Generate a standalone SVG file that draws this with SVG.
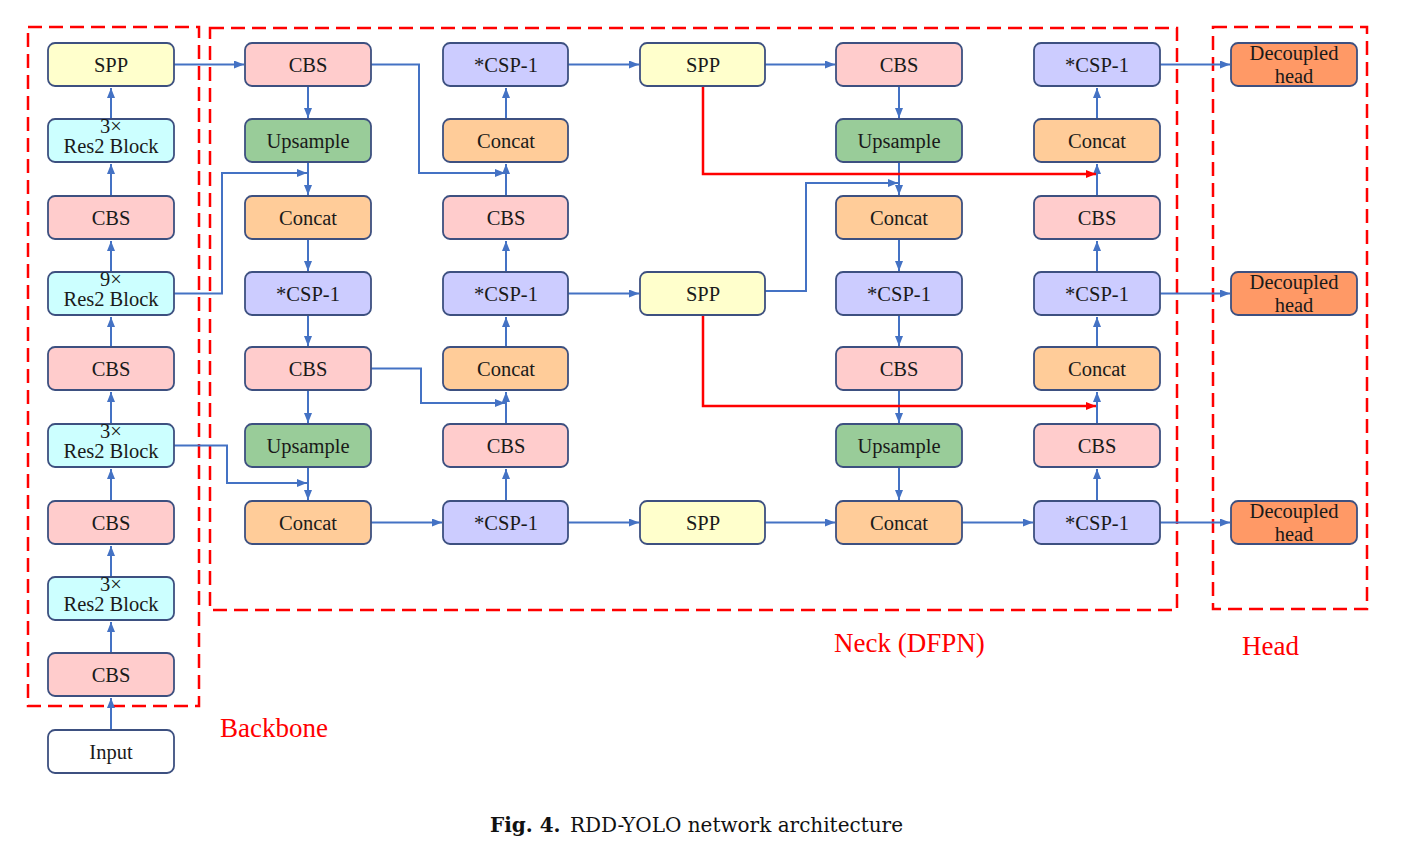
<svg xmlns="http://www.w3.org/2000/svg" width="1411" height="858" viewBox="0 0 1411 858">
<defs>
<style>
.n rect{stroke:#3D5080;stroke-width:1.8}
.t{font-family:"Liberation Serif","Times New Roman",serif;font-size:20.5px;fill:#1a1a1a;text-anchor:middle}
.spp{fill:#FFFFCC}.cbs{fill:#FFCCCC}.res{fill:#CCFFFF}.ups{fill:#99CC99}.cat{fill:#FFCC99}.csp{fill:#CCCCFF}.dh{fill:#FF9966}.inp{fill:#FFFFFF}
.c path{fill:none;stroke:#4472C4;stroke-width:2;marker-end:url(#ab)}
.c path.r{stroke:#FF0000;stroke-width:2.5;marker-end:url(#ar)}
.box{fill:none;stroke:#FF0000;stroke-width:2.5;stroke-dasharray:14 7}
.lbl{font-family:"Liberation Serif","Times New Roman",serif;font-size:27px;fill:#FF0000}
</style>
<marker id="ab" markerUnits="userSpaceOnUse" markerWidth="10" markerHeight="8" refX="10" refY="4" orient="auto"><path d="M0,0 L10,4 L0,8 z" fill="#4472C4"/></marker>
<marker id="ar" markerUnits="userSpaceOnUse" markerWidth="10" markerHeight="8" refX="10" refY="4" orient="auto"><path d="M0,0 L10,4 L0,8 z" fill="#FF0000"/></marker>
</defs>
<rect width="1411" height="858" fill="#FFFFFF"/>

<g id="groups">
<rect class="box" x="28" y="27" width="171" height="679"/>
<rect class="box" x="210" y="28" width="967" height="582"/>
<rect class="box" x="1213" y="27" width="154" height="582"/>
<text class="lbl" x="220" y="737">Backbone</text>
<text class="lbl" x="834" y="652">Neck (DFPN)</text>
<text class="lbl" x="1242" y="655">Head</text>
</g>

<g id="connectors" class="c">
<path d="M111,730 V698"/>
<path d="M111,653 V622"/>
<path d="M111,577 V546"/>
<path d="M111,501 V469"/>
<path d="M111,424 V392"/>
<path d="M111,347 V317"/>
<path d="M111,272 V241"/>
<path d="M111,196 V164"/>
<path d="M111,119 V88"/>
<path d="M174,64.5 H244"/>
<path d="M371,64.5 H419 V173 H505"/>
<path d="M174,293.5 H222 V173 H307"/>
<path d="M308,86 V118"/>
<path d="M308,162 V195"/>
<path d="M308,239 V271"/>
<path d="M308,315 V346"/>
<path d="M308,390 V423"/>
<path d="M308,467 V500"/>
<path d="M371,368.5 H421 V403 H505"/>
<path d="M174,445.5 H227 V483 H307"/>
<path d="M371,522.5 H442"/>
<path d="M506,501 V469"/>
<path d="M506,424 V392"/>
<path d="M506,347 V317"/>
<path d="M506,272 V241"/>
<path d="M506,196 V164"/>
<path d="M506,119 V88"/>
<path d="M568,64.5 H639"/>
<path d="M568,293.5 H639"/>
<path d="M568,522.5 H639"/>
<path d="M765,64.5 H835"/>
<path d="M765,291 H806 V183 H898"/>
<path d="M765,522.5 H835"/>
<path d="M899,86 V118"/>
<path d="M899,162 V195"/>
<path d="M899,239 V271"/>
<path d="M899,315 V346"/>
<path d="M899,390 V423"/>
<path d="M899,467 V500"/>
<path d="M962,522.5 H1033"/>
<path d="M1097,501 V469"/>
<path d="M1097,424 V392"/>
<path d="M1097,347 V317"/>
<path d="M1097,272 V241"/>
<path d="M1097,196 V164"/>
<path d="M1097,119 V88"/>
<path d="M1160,64.5 H1230"/>
<path d="M1160,293.5 H1230"/>
<path d="M1160,522.5 H1230"/>
<path class="r" d="M703,86 V174 H1096"/>
<path class="r" d="M703,315 V406 H1096"/>
</g>

<g id="backbone">
<g id="b_spp" class="n"><rect class="spp" x="48" y="43" width="126" height="43" rx="7"/><text class="t" x="111" y="72">SPP</text></g>
<g id="b_res1" class="n"><rect class="res" x="48" y="119" width="126" height="43" rx="7"/><text class="t" x="111" y="133">3×</text><text class="t" x="111" y="153">Res2 Block</text></g>
<g id="b_cbs1" class="n"><rect class="cbs" x="48" y="196" width="126" height="43" rx="7"/><text class="t" x="111" y="225">CBS</text></g>
<g id="b_res2" class="n"><rect class="res" x="48" y="272" width="126" height="43" rx="7"/><text class="t" x="111" y="286">9×</text><text class="t" x="111" y="306">Res2 Block</text></g>
<g id="b_cbs2" class="n"><rect class="cbs" x="48" y="347" width="126" height="43" rx="7"/><text class="t" x="111" y="376">CBS</text></g>
<g id="b_res3" class="n"><rect class="res" x="48" y="424" width="126" height="43" rx="7"/><text class="t" x="111" y="438">3×</text><text class="t" x="111" y="458">Res2 Block</text></g>
<g id="b_cbs3" class="n"><rect class="cbs" x="48" y="501" width="126" height="43" rx="7"/><text class="t" x="111" y="530">CBS</text></g>
<g id="b_res4" class="n"><rect class="res" x="48" y="577" width="126" height="43" rx="7"/><text class="t" x="111" y="591">3×</text><text class="t" x="111" y="611">Res2 Block</text></g>
<g id="b_cbs4" class="n"><rect class="cbs" x="48" y="653" width="126" height="43" rx="7"/><text class="t" x="111" y="682">CBS</text></g>
<g id="b_input" class="n"><rect class="inp" x="48" y="730" width="126" height="43" rx="7"/><text class="t" x="111" y="759">Input</text></g>
</g>

<g id="neck">
<g id="c1a" class="n"><rect class="cbs" x="245" y="43" width="126" height="43" rx="7"/><text class="t" x="308" y="72">CBS</text></g>
<g id="c1b" class="n"><rect class="ups" x="245" y="119" width="126" height="43" rx="7"/><text class="t" x="308" y="148">Upsample</text></g>
<g id="c1c" class="n"><rect class="cat" x="245" y="196" width="126" height="43" rx="7"/><text class="t" x="308" y="225">Concat</text></g>
<g id="c1d" class="n"><rect class="csp" x="245" y="272" width="126" height="43" rx="7"/><text class="t" x="308" y="301">*CSP-1</text></g>
<g id="c1e" class="n"><rect class="cbs" x="245" y="347" width="126" height="43" rx="7"/><text class="t" x="308" y="376">CBS</text></g>
<g id="c1f" class="n"><rect class="ups" x="245" y="424" width="126" height="43" rx="7"/><text class="t" x="308" y="453">Upsample</text></g>
<g id="c1g" class="n"><rect class="cat" x="245" y="501" width="126" height="43" rx="7"/><text class="t" x="308" y="530">Concat</text></g>

<g id="c2a" class="n"><rect class="csp" x="443" y="43" width="125" height="43" rx="7"/><text class="t" x="506" y="72">*CSP-1</text></g>
<g id="c2b" class="n"><rect class="cat" x="443" y="119" width="125" height="43" rx="7"/><text class="t" x="506" y="148">Concat</text></g>
<g id="c2c" class="n"><rect class="cbs" x="443" y="196" width="125" height="43" rx="7"/><text class="t" x="506" y="225">CBS</text></g>
<g id="c2d" class="n"><rect class="csp" x="443" y="272" width="125" height="43" rx="7"/><text class="t" x="506" y="301">*CSP-1</text></g>
<g id="c2e" class="n"><rect class="cat" x="443" y="347" width="125" height="43" rx="7"/><text class="t" x="506" y="376">Concat</text></g>
<g id="c2f" class="n"><rect class="cbs" x="443" y="424" width="125" height="43" rx="7"/><text class="t" x="506" y="453">CBS</text></g>
<g id="c2g" class="n"><rect class="csp" x="443" y="501" width="125" height="43" rx="7"/><text class="t" x="506" y="530">*CSP-1</text></g>

<g id="c3a" class="n"><rect class="spp" x="640" y="43" width="125" height="43" rx="7"/><text class="t" x="703" y="72">SPP</text></g>
<g id="c3d" class="n"><rect class="spp" x="640" y="272" width="125" height="43" rx="7"/><text class="t" x="703" y="301">SPP</text></g>
<g id="c3g" class="n"><rect class="spp" x="640" y="501" width="125" height="43" rx="7"/><text class="t" x="703" y="530">SPP</text></g>

<g id="c4a" class="n"><rect class="cbs" x="836" y="43" width="126" height="43" rx="7"/><text class="t" x="899" y="72">CBS</text></g>
<g id="c4b" class="n"><rect class="ups" x="836" y="119" width="126" height="43" rx="7"/><text class="t" x="899" y="148">Upsample</text></g>
<g id="c4c" class="n"><rect class="cat" x="836" y="196" width="126" height="43" rx="7"/><text class="t" x="899" y="225">Concat</text></g>
<g id="c4d" class="n"><rect class="csp" x="836" y="272" width="126" height="43" rx="7"/><text class="t" x="899" y="301">*CSP-1</text></g>
<g id="c4e" class="n"><rect class="cbs" x="836" y="347" width="126" height="43" rx="7"/><text class="t" x="899" y="376">CBS</text></g>
<g id="c4f" class="n"><rect class="ups" x="836" y="424" width="126" height="43" rx="7"/><text class="t" x="899" y="453">Upsample</text></g>
<g id="c4g" class="n"><rect class="cat" x="836" y="501" width="126" height="43" rx="7"/><text class="t" x="899" y="530">Concat</text></g>

<g id="c5a" class="n"><rect class="csp" x="1034" y="43" width="126" height="43" rx="7"/><text class="t" x="1097" y="72">*CSP-1</text></g>
<g id="c5b" class="n"><rect class="cat" x="1034" y="119" width="126" height="43" rx="7"/><text class="t" x="1097" y="148">Concat</text></g>
<g id="c5c" class="n"><rect class="cbs" x="1034" y="196" width="126" height="43" rx="7"/><text class="t" x="1097" y="225">CBS</text></g>
<g id="c5d" class="n"><rect class="csp" x="1034" y="272" width="126" height="43" rx="7"/><text class="t" x="1097" y="301">*CSP-1</text></g>
<g id="c5e" class="n"><rect class="cat" x="1034" y="347" width="126" height="43" rx="7"/><text class="t" x="1097" y="376">Concat</text></g>
<g id="c5f" class="n"><rect class="cbs" x="1034" y="424" width="126" height="43" rx="7"/><text class="t" x="1097" y="453">CBS</text></g>
<g id="c5g" class="n"><rect class="csp" x="1034" y="501" width="126" height="43" rx="7"/><text class="t" x="1097" y="530">*CSP-1</text></g>
</g>

<g id="head">
<g id="h1" class="n"><rect class="dh" x="1231" y="43" width="126" height="43" rx="7"/><text class="t" x="1294" y="60">Decoupled</text><text class="t" x="1294" y="83">head</text></g>
<g id="h2" class="n"><rect class="dh" x="1231" y="272" width="126" height="43" rx="7"/><text class="t" x="1294" y="289">Decoupled</text><text class="t" x="1294" y="312">head</text></g>
<g id="h3" class="n"><rect class="dh" x="1231" y="501" width="126" height="43" rx="7"/><text class="t" x="1294" y="518">Decoupled</text><text class="t" x="1294" y="541">head</text></g>
</g>

<text x="490" y="832" font-family="'DejaVu Serif',serif" font-size="20" fill="#111"><tspan font-weight="bold">Fig. 4.</tspan><tspan x="570">RDD-YOLO network architecture</tspan></text>
</svg>
